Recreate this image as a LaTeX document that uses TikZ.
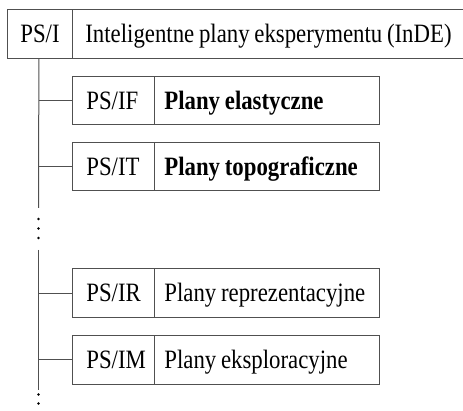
\documentclass[tikz,border=0pt]{standalone}
\usepackage{fontspec}
\setmainfont{Liberation Serif}[FakeStretch=0.86]
\definecolor{linec}{RGB}{80,80,80}
\newcommand{\celltext}[1]{\mbox{\spaceskip=0.18em plus 0.04em\relax #1}}
\begin{document}
\begin{tikzpicture}[x=1pt,y=-1pt,
  every node/.style={font=\fontsize{26.5}{30}\selectfont},
  cell/.style={draw=linec, line width=0.8pt, rectangle, anchor=north west,
    inner ysep=0pt, align=left, text height=17.5pt, text depth=0pt,
    minimum height=48.5pt},
  topcode/.style={cell, inner xsep=13pt, text width=39pt, minimum width=65pt},
  toptitle/.style={cell, inner xsep=13pt, text width=434pt, minimum width=460pt},
  code/.style={cell, inner xsep=14pt, text width=54pt, minimum width=82pt},
  title/.style={cell, inner xsep=10pt, text width=205pt, minimum width=225pt},
  boldtitle/.style={title, font=\fontsize{26.5}{30}\selectfont\bfseries},
  trunk/.style={draw=linec, line width=1pt},
  dot/.style={fill=black},
]
\useasboundingbox (0,0) rectangle (463,411);
\clip (0,0) rectangle (463,411);
% top box
\node[topcode] (pi) at (7,9.5) {\celltext{PS/I}};
\node[toptitle] (pit) at (72,9.5) {\celltext{Inteligentne plany eksperymentu (InDE)}};
% sub boxes
\node[code] (if) at (72,76) {\celltext{PS/IF}};
\node[boldtitle] (ift) at (154,76) {\celltext{Plany elastyczne}};
\node[code] (it) at (72,142) {\celltext{PS/IT}};
\node[boldtitle] (itt) at (154,142) {\celltext{Plany topograficzne}};
\node[code] (ir) at (72,268.5) {\celltext{PS/IR}};
\node[title] (irt) at (154,268.5) {\celltext{Plany reprezentacyjne}};
\node[code] (im) at (72,335) {\celltext{PS/IM}};
\node[title] (imt) at (154,335) {\celltext{Plany eksploracyjne}};
% trunk
\coordinate (t0) at ([xshift=-1pt]pi.south);
\coordinate (t1) at (38.5,208);
\coordinate (t2) at (38.5,250);
\coordinate (t3) at (38.5,390);
\draw[trunk] (t0) -- (t1);
\draw[trunk] (t2) -- (t3);
\draw[trunk] (if.west -| t0) -- (if.west);
\draw[trunk] (it.west -| t0) -- (it.west);
\draw[trunk] (ir.west -| t0) -- (ir.west);
\draw[trunk] (im.west -| t0) -- (im.west);
% ellipsis dots
\fill[dot] (38.5,219) circle (1.3pt);
\fill[dot] (38.5,228.5) circle (1.3pt);
\fill[dot] (38.5,238) circle (1.3pt);
\fill[dot] (38.5,394.5) circle (1.3pt);
\fill[dot] (38.5,403.5) circle (1.3pt);
\fill[dot] (38.5,412.5) circle (1.3pt);
\end{tikzpicture}
\end{document}
